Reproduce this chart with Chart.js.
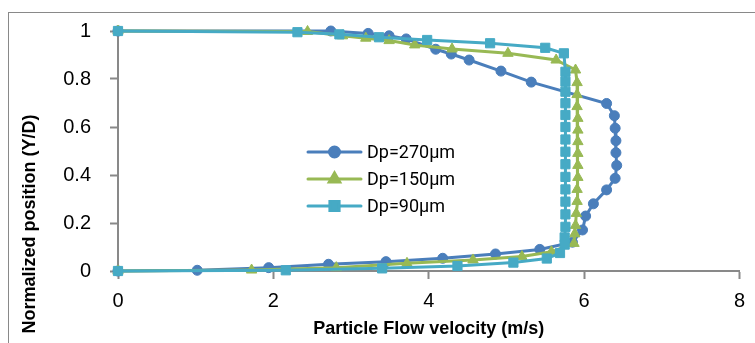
<!DOCTYPE html>
<html>
<head>
<meta charset="utf-8">
<script src="https://cdn.jsdelivr.net/npm/chart.js@4/dist/chart.umd.min.js"></script>
<style>
  body { margin: 0; background: #fff; }
  canvas { display: block; }
</style>
</head>
<body>
<canvas id="velChart" width="755" height="343"></canvas>
<script>
// Dp = 270 um (velocity m/s, normalized position)
const vel270 = [0, 2.74, 3.22, 3.49, 3.71, 4.09, 4.29, 4.52, 4.93, 5.32, 6.29, 6.39, 6.40, 6.41, 6.41, 6.42, 6.40, 6.29, 6.12, 6.02, 5.98, 5.85, 5.43, 4.86, 4.18, 3.45, 2.71, 1.94, 1.02, 0];
const pos270 = [1, 1.0, 0.99, 0.98, 0.967, 0.924, 0.904, 0.879, 0.833, 0.787, 0.698, 0.647, 0.595, 0.543, 0.493, 0.44, 0.386, 0.338, 0.28, 0.229, 0.171, 0.12, 0.09, 0.071, 0.053, 0.039, 0.028, 0.014, 0.003, 0];

// Dp = 150 um
const vel150 = [0, 2.44, 2.89, 3.19, 3.49, 3.82, 4.30, 5.02, 5.64, 5.89, 5.91, 5.91, 5.91, 5.92, 5.92, 5.92, 5.92, 5.92, 5.92, 5.91, 5.91, 5.90, 5.89, 5.88, 5.87, 5.58, 5.20, 4.57, 3.72, 2.81, 1.72, 0];
const pos150 = [1, 0.998, 0.98, 0.97, 0.96, 0.942, 0.925, 0.907, 0.879, 0.8375, 0.785, 0.735, 0.685, 0.636, 0.587, 0.539, 0.49, 0.44, 0.39, 0.34, 0.29, 0.24, 0.19, 0.155, 0.115, 0.08, 0.06, 0.046, 0.032, 0.014, 0.004, 0];

// Dp = 90 um
const vel90 = [0, 2.31, 2.85, 3.36, 3.98, 4.79, 5.50, 5.74, 5.76, 5.76, 5.76, 5.76, 5.76, 5.76, 5.76, 5.76, 5.76, 5.76, 5.76, 5.76, 5.76, 5.76, 5.75, 5.75, 5.69, 5.52, 5.09, 4.37, 3.40, 2.16, 0];
const pos90 = [1, 0.995, 0.986, 0.974, 0.9625, 0.949, 0.93, 0.907, 0.83, 0.789, 0.747, 0.699, 0.65, 0.6, 0.548, 0.497, 0.445, 0.392, 0.34, 0.289, 0.236, 0.184, 0.14, 0.11, 0.075, 0.052, 0.035, 0.021, 0.011, 0.003, 0];

const seriesNames = ['Dp=270μm', 'Dp=150μm', 'Dp=90μm'];
const xTickLabels = ['0', '2', '4', '6', '8'];
const yTickLabels = ['0', '0.2', '0.4', '0.6', '0.8', '1'];

const xTitle = 'Particle Flow velocity (m/s)';
const yTitle = 'Normalized position (Y/D)';

const axisGrey = '#898989';
const tickFont = { family: '"Liberation Sans Narrow", "Liberation Sans", sans-serif', size: 20 };
const titleFont = 'bold 18px "Liberation Sans", sans-serif';

function toPoints(xs, ys) {
  return xs.map((x, i) => ({ x: x, y: ys[i] }));
}

const colors = ['#4a7ebb', '#98b954', '#46aac5'];
const styles = [
  { pointStyle: 'circle', radius: 5 },
  { pointStyle: 'triangle', radius: 6 },
  { pointStyle: 'rect', radius: 6.5 }
];

// frame, axis titles and the legend box inside the plot
const extras = {
  id: 'extras',
  beforeDraw(chart) {
    const ctx = chart.ctx;
    ctx.save();
    ctx.fillStyle = '#fff';
    ctx.fillRect(0, 0, chart.width, chart.height);
    ctx.strokeStyle = axisGrey;
    ctx.lineWidth = 1;
    ctx.strokeRect(8.5, 12.5, 900, 500);
    ctx.restore();
  },
  afterDraw(chart) {
    const ctx = chart.ctx;
    const area = chart.chartArea;
    ctx.save();
    ctx.fillStyle = '#000';
    ctx.font = titleFont;
    ctx.textAlign = 'center';
    ctx.textBaseline = 'middle';
    ctx.fillText(xTitle, (area.left + area.right) / 2, 329);

    ctx.translate(30, 224);
    ctx.rotate(-Math.PI / 2);
    ctx.fillText(yTitle, 0, 0);
    ctx.restore();

    // legend
    ctx.save();
    ctx.font = '18px Roboto, "Liberation Sans", sans-serif';
    ctx.textBaseline = 'middle';
    ctx.textAlign = 'left';
    seriesNames.forEach((name, i) => {
      const y = 152 + i * 27;
      ctx.strokeStyle = colors[i];
      ctx.lineWidth = 3;
      ctx.lineCap = 'round';
      ctx.beginPath();
      ctx.moveTo(308, y);
      ctx.lineTo(361, y);
      ctx.stroke();
      ctx.fillStyle = colors[i];
      Chart.helpers.drawPoint(ctx, {
        pointStyle: styles[i].pointStyle,
        radius: styles[i].radius,
        rotation: 0,
        borderWidth: 1
      }, 334.5, y);
      ctx.fillStyle = '#000';
      ctx.fillText(name, 367, y + 1);
    });
    ctx.restore();
  }
};

const datasets = [
  { data: toPoints(vel270, pos270), order: 2 },
  { data: toPoints(vel150, pos150), order: 1 },
  { data: toPoints(vel90, pos90), order: 0 }
].map((d, i) => Object.assign(d, {
  label: seriesNames[i],
  showLine: true,
  borderColor: colors[i],
  backgroundColor: colors[i],
  borderWidth: 3,
  pointStyle: styles[i].pointStyle,
  pointRadius: styles[i].radius,
  pointBorderWidth: 1,
  pointBorderColor: colors[i],
  pointBackgroundColor: colors[i],
  tension: 0,
  clip: false
}));

new Chart(document.getElementById('velChart'), {
  type: 'scatter',
  data: { datasets: datasets },
  options: {
    responsive: false,
    animation: false,
    devicePixelRatio: 1,
    layout: { padding: { top: 31, right: 13, left: 0, bottom: 0 } },
    plugins: {
      legend: { display: false },
      tooltip: { enabled: false }
    },
    scales: {
      x: {
        type: 'linear',
        min: 0,
        max: 8,
        afterFit: s => { s.height = 72; },
        border: { display: true, color: axisGrey, width: 2 },
        grid: { drawOnChartArea: false, drawTicks: true, tickLength: 8, tickWidth: 2, tickColor: axisGrey },
        ticks: {
          stepSize: 2,
          padding: 10,
          color: '#000',
          font: tickFont,
          maxRotation: 0,
          callback: (v, i) => xTickLabels[i]
        }
      },
      y: {
        type: 'linear',
        min: 0,
        max: 1,
        afterFit: s => { s.width = 118; },
        border: { display: true, color: axisGrey, width: 2 },
        grid: { drawOnChartArea: false, drawTicks: true, tickLength: 8, tickWidth: 2, tickColor: axisGrey },
        ticks: {
          stepSize: 0.2,
          padding: 19,
          color: '#000',
          font: tickFont,
          callback: (v, i) => yTickLabels[i]
        }
      }
    }
  },
  plugins: [extras]
});
</script>
</body>
</html>
